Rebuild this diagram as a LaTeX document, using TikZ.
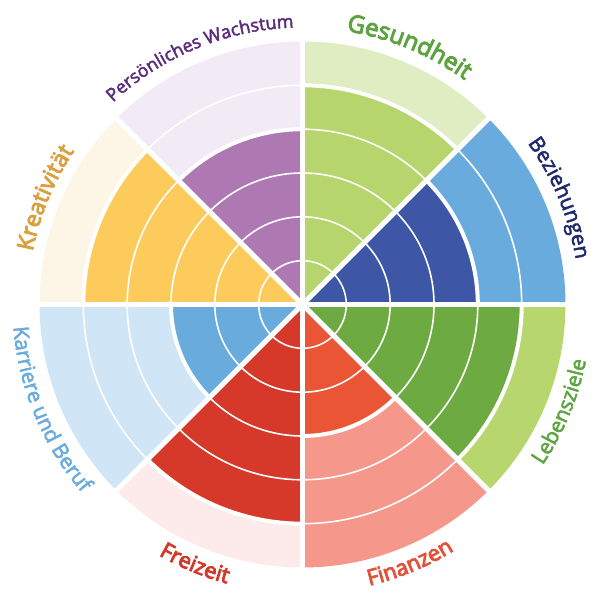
\documentclass[tikz,border=0pt]{standalone}
\usepackage{fontspec}
\setsansfont{Open Sans}
\newfontfamily\boldlabel[FakeBold=4]{Open Sans}
\newfontfamily\thinlabel[FakeBold=2.5]{Open Sans}
\usetikzlibrary{decorations.text}

% Colours of the eight areas: dark = score, light = rest, text = label
\definecolor{gesDark}{HTML}{B6D56C}
\definecolor{gesLight}{HTML}{E0ECC1}
\definecolor{gesText}{HTML}{5DA340}
\definecolor{bezDark}{HTML}{3D56A6}
\definecolor{bezLight}{HTML}{6AABDE}
\definecolor{bezText}{HTML}{1E2A6C}
\definecolor{lebDark}{HTML}{6DAA42}
\definecolor{lebLight}{HTML}{B8D66E}
\definecolor{lebText}{HTML}{5DA340}
\definecolor{finDark}{HTML}{EA5535}
\definecolor{finLight}{HTML}{F5978B}
\definecolor{finText}{HTML}{E3513A}
\definecolor{freDark}{HTML}{D63829}
\definecolor{freLight}{HTML}{FDEAEA}
\definecolor{freText}{HTML}{D2392B}
\definecolor{karDark}{HTML}{6AABDE}
\definecolor{karLight}{HTML}{D0E5F6}
\definecolor{karText}{HTML}{6AABDE}
\definecolor{kreDark}{HTML}{FDCB5B}
\definecolor{kreLight}{HTML}{FDF5E6}
\definecolor{kreText}{HTML}{DAA040}
\definecolor{perDark}{HTML}{AE78B2}
\definecolor{perLight}{HTML}{F2EBF5}
\definecolor{perText}{HTML}{5C2D7A}

\begin{document}
\begin{tikzpicture}[
    % GLOBAL CFG
    x=1pt, y=1pt,
    % Styles
    ring/.style={% Thin white circles of the scale
        draw=white,
        line width=1.6pt,
        },
    level/.style={% White arc where the score ends
        draw=white,
        line width=4pt,
        },
    divider/.style={% White spokes between the areas
        draw=white,
        line width=5pt,
        },
    curved/.style={% Labels written along an arc
        decorate,
        decoration={text along path, text align=center},
        }
    ]

    \useasboundingbox (-302.5,-305.5) rectangle (297.5,304.5);
    \coordinate (O) at (0,0);

%Start drawing the wheel...
    % Light part of every area, named as basis ges,bez,leb,fin,fre,kar,kre,per
    \fill [bezLight] (O) -- (0:263) arc[start angle=0, end angle=45, radius=263] -- cycle;
    \fill [gesLight] (O) -- (45:263) arc[start angle=45, end angle=90, radius=263] -- cycle;
    \fill [perLight] (O) -- (90:263) arc[start angle=90, end angle=135, radius=263] -- cycle;
    \fill [kreLight] (O) -- (135:263) arc[start angle=135, end angle=180, radius=263] -- cycle;
    \fill [karLight] (O) -- (180:263) arc[start angle=180, end angle=225, radius=263] -- cycle;
    \fill [freLight] (O) -- (225:263) arc[start angle=225, end angle=270, radius=263] -- cycle;
    \fill [finLight] (O) -- (270:263) arc[start angle=270, end angle=315, radius=263] -- cycle;
    \fill [lebLight] (O) -- (315:263) arc[start angle=315, end angle=360, radius=263] -- cycle;

    % Dark part = score of the area
    \fill [bezDark] (O) -- (0:175.3) arc[start angle=0, end angle=45, radius=175.3] -- cycle;
    \fill [gesDark] (O) -- (45:219.2) arc[start angle=45, end angle=90, radius=219.2] -- cycle;
    \fill [perDark] (O) -- (90:175.3) arc[start angle=90, end angle=135, radius=175.3] -- cycle;
    \fill [kreDark] (O) -- (135:219.2) arc[start angle=135, end angle=180, radius=219.2] -- cycle;
    \fill [karDark] (O) -- (180:131.5) arc[start angle=180, end angle=225, radius=131.5] -- cycle;
    \fill [freDark] (O) -- (225:219.2) arc[start angle=225, end angle=270, radius=219.2] -- cycle;
    \fill [finDark] (O) -- (270:131.5) arc[start angle=270, end angle=315, radius=131.5] -- cycle;
    \fill [lebDark] (O) -- (315:219.2) arc[start angle=315, end angle=360, radius=219.2] -- cycle;

    % Scale
    \draw [ring] (O) circle[radius=43.8];
    \draw [ring] (O) circle[radius=87.7];
    \draw [ring] (O) circle[radius=131.5];
    \draw [ring] (O) circle[radius=175.3];
    \draw [ring] (O) circle[radius=219.2];

    % End of each score
    \draw [level] (0:175.3) arc[start angle=0, end angle=45, radius=175.3];
    \draw [level] (45:219.2) arc[start angle=45, end angle=90, radius=219.2];
    \draw [level] (90:175.3) arc[start angle=90, end angle=135, radius=175.3];
    \draw [level] (135:219.2) arc[start angle=135, end angle=180, radius=219.2];
    \draw [level] (180:131.5) arc[start angle=180, end angle=225, radius=131.5];
    \draw [level] (225:219.2) arc[start angle=225, end angle=270, radius=219.2];
    \draw [level] (270:131.5) arc[start angle=270, end angle=315, radius=131.5];
    \draw [level] (315:219.2) arc[start angle=315, end angle=360, radius=219.2];

    % Spokes
    \draw [divider] (0:266) -- (180:266);
    \draw [divider] (45:266) -- (225:266);
    \draw [divider] (90:266) -- (270:266);
    \draw [divider] (135:266) -- (315:266);

% Labels, upper half clockwise, lower half counter clockwise
    \path [curved, decoration={text={|\boldlabel\fontsize{24}{28}\selectfont\color{gesText}|Gesundheit}}]
        (107.5:277) arc[start angle=107.5, end angle=27.5, radius=277];
    \path [curved, decoration={text={|\thinlabel\fontsize{21}{25}\selectfont\color{bezText}|Beziehungen}}]
        (62.5:277) arc[start angle=62.5, end angle=-17.5, radius=277];
    \path [curved, decoration={text={|\thinlabel\fontsize{18}{22}\selectfont\color{perText}|Persönliches Wachstum}}]
        (152.5:277) arc[start angle=152.5, end angle=72.5, radius=277];
    \path [curved, decoration={text={|\boldlabel\fontsize{23}{27}\selectfont\color{kreText}|Kreativität}}]
        (197.5:275) arc[start angle=197.5, end angle=117.5, radius=275];
    \path [curved, decoration={text={|\thinlabel\fontsize{21}{25}\selectfont\color{lebText}|Lebensziele}}]
        (-62.5:289) arc[start angle=-62.5, end angle=17.5, radius=289];
    \path [curved, decoration={text={|\boldlabel\fontsize{22}{26}\selectfont\color{finText}|Finanzen}}]
        (-107.5:289) arc[start angle=-107.5, end angle=-27.5, radius=289];
    \path [curved, decoration={text={|\boldlabel\fontsize{22}{26}\selectfont\color{freText}|Freizeit}}]
        (-152.5:289) arc[start angle=-152.5, end angle=-72.5, radius=289];
    \path [curved, decoration={text={|\thinlabel\fontsize{21}{25}\selectfont\color{karText}|Karriere und Beruf}}]
        (162.5:290) arc[start angle=162.5, end angle=242.5, radius=290];

\end{tikzpicture}
\end{document}
